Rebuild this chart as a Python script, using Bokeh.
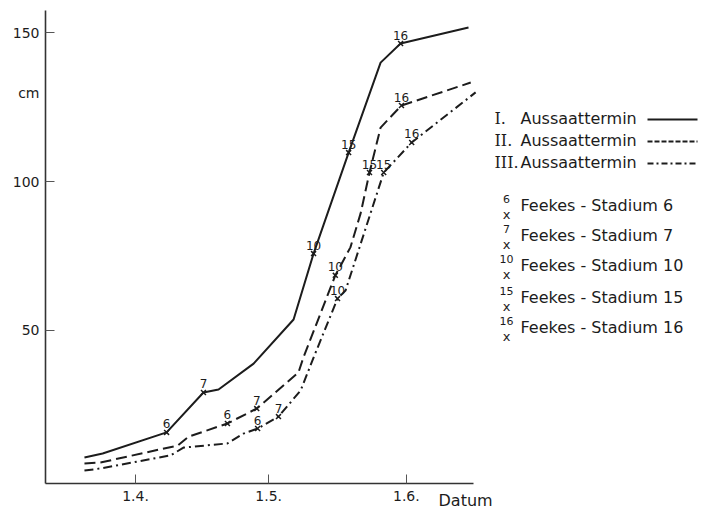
from bokeh.plotting import figure
from bokeh.models import Range1d, FixedTicker, LinearAxis
from bokeh.core.properties import value
from bokeh.embed import file_html
from bokeh.resources import INLINE

# ---------------- data ----------------
# x = days after 1 April, y = plant height in cm
tick_days = [0, 30, 61]
tick_labels = ["1.4.", "1.5.", "1.6."]
y_ticks = [50, 100, 150]

# I. Aussaattermin (solid)
days_I = [-11.5, -7.4, 7.0, 15.3, 18.7, 26.6, 35.6, 40.1, 48.0, 55.2, 59.7, 75.0]
cm_I = [7.4, 8.7, 15.8, 29.2, 30.2, 38.9, 53.7, 75.8, 109.7, 139.9, 146.3, 151.7]
stage_days_I = [7.0, 15.3, 40.1, 48.0, 59.7]
stage_cm_I = [15.8, 29.2, 75.8, 109.7, 146.3]

# II. Aussaattermin (dashed)
days_II = [-11.5, -7.9, 9.5, 12.0, 20.7, 27.3, 36.7, 37.8, 45.0, 48.4, 50.7, 52.7, 55.2, 59.9, 75.5]
cm_II = [5.4, 5.7, 11.4, 14.4, 18.8, 23.8, 35.9, 40.9, 68.5, 77.9, 89.3, 103.0, 118.1, 125.5, 133.2]
stage_days_II = [20.7, 27.3, 45.0, 52.7, 59.9]
stage_cm_II = [18.8, 23.8, 68.5, 103.0, 125.5]

# III. Aussaattermin (dash-dot)
days_III = [-11.5, -7.9, 7.9, 10.8, 20.7, 24.3, 27.5, 32.2, 37.2, 40.1, 45.5, 47.3, 55.9, 62.2, 76.6]
cm_III = [3.0, 3.7, 8.1, 10.7, 12.1, 15.4, 17.1, 21.1, 29.9, 40.9, 60.7, 63.4, 103.0, 113.1, 129.9]
stage_days_III = [27.5, 32.2, 45.5, 55.9, 62.2]
stage_cm_III = [17.1, 21.1, 60.7, 103.0, 113.1]

stage_names = ["6", "7", "10", "15", "16"]
series_numerals = ["I.", "II.", "III."]
series_name = "Aussaattermin"
stage_legend_texts = ["Feekes - Stadium " + s for s in stage_names]
x_title = "Datum"
y_title = "cm"

# ---------------- styling ----------------
INK = "#1c1c1c"
FONT = "DejaVu Sans"
SERIF = "DejaVu Serif"
dashes = ["solid", "11 5", "9 4 2 4"]

X0, X1 = -20.27, 76.1      # axis extents (days)
Y0, Y1 = -1.34, 157.4      # axis extents (cm)

p = figure(width=704, height=511, output_backend="svg", toolbar_location=None,
           x_range=Range1d(-30.41, 128.15), y_range=Range1d(-10.74, 160.74),
           x_axis_location=None, y_axis_location=None,
           min_border=0, min_border_left=0, min_border_right=0,
           min_border_top=0, min_border_bottom=0)
p.outline_line_color = None
p.xgrid.visible = False
p.ygrid.visible = False
p.background_fill_color = "white"
p.border_fill_color = "white"

# pixel-like helper ranges for legend / annotation placement
p.extra_x_ranges = {"px": Range1d(0, 704)}
p.extra_y_ranges = {"py": Range1d(511, 0)}

xaxis = LinearAxis(fixed_location=Y0, bounds=(X0, X1),
                   ticker=FixedTicker(ticks=tick_days),
                   major_label_overrides={d: l for d, l in zip(tick_days, tick_labels)},
                   major_label_standoff=8)
yaxis = LinearAxis(fixed_location=X0, bounds=(Y0, Y1),
                   ticker=FixedTicker(ticks=y_ticks), major_label_standoff=6)
for ax in (xaxis, yaxis):
    ax.axis_line_color = "#333333"
    ax.axis_line_width = 1.6
    ax.major_tick_line_color = "#555555"
    ax.major_tick_in = 9
    ax.major_tick_out = 0
    ax.minor_tick_line_color = None
    ax.major_label_text_font = FONT
    ax.major_label_text_font_size = "14px"
    ax.major_label_text_color = INK
p.add_layout(xaxis, "below")
p.add_layout(yaxis, "left")

series = [
    (days_I, cm_I, stage_days_I, stage_cm_I),
    (days_II, cm_II, stage_days_II, stage_cm_II),
    (days_III, cm_III, stage_days_III, stage_cm_III),
]
for (dx, cy, sx, sy), dash in zip(series, dashes):
    p.line(dx, cy, line_color=INK, line_width=2.0, line_dash=dash)
    p.scatter(sx, sy, marker="x", size=7, line_color=INK, line_width=1.5)
    p.text(sx, sy, text=stage_names, text_align="center", text_baseline="bottom",
           y_offset=-4, text_font=value(FONT), text_font_size="12px", text_color=INK)

# ---------------- legend (in pixel helper coords) ----------------
leg_y = [118, 140, 162]
p.text([494] * 3, leg_y, text=series_numerals, text_baseline="middle",
       text_font=value(SERIF), text_font_size="16px", text_color=INK,
       x_range_name="px", y_range_name="py")
p.text([520] * 3, leg_y, text=[series_name] * 3, text_baseline="middle",
       text_font=value(FONT), text_font_size="16px", text_color=INK,
       x_range_name="px", y_range_name="py")
for yy, dash in zip(leg_y, ["solid", "5 2", "6 3 2 3"]):
    p.line([647, 697], [yy + 1, yy + 1], line_color=INK, line_width=2.2, line_dash=dash,
           x_range_name="px", y_range_name="py")

st_y = [205, 235, 265, 297, 327]
p.text([506] * 5, [y - 3 for y in st_y], text=stage_names, text_align="center",
       text_baseline="bottom", text_font=value(FONT), text_font_size="11px",
       text_color=INK, x_range_name="px", y_range_name="py")
p.text([506] * 5, [y + 9 for y in st_y], text=["x"] * 5, text_align="center",
       text_baseline="middle", text_font=value(FONT), text_font_size="13px",
       text_color=INK, x_range_name="px", y_range_name="py")
p.text([520] * 5, st_y, text=stage_legend_texts, text_baseline="middle",
       text_font=value(FONT), text_font_size="16px", text_color=INK,
       x_range_name="px", y_range_name="py")

# axis titles
p.text([39], [92], text=[y_title], text_align="right", text_baseline="middle",
       text_font=value(FONT), text_font_size="14px", text_color=INK,
       x_range_name="px", y_range_name="py")
p.text([438], [500], text=[x_title], text_align="left", text_baseline="middle",
       text_font=value(FONT), text_font_size="16px", text_color=INK,
       x_range_name="px", y_range_name="py")

open("out.html", "w").write(file_html(p, INLINE))
